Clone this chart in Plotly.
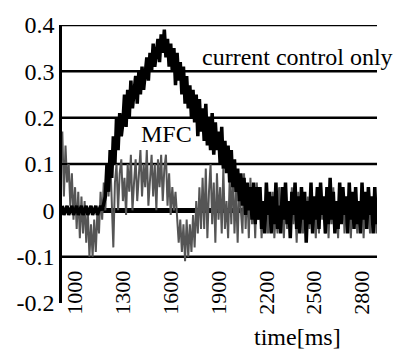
import plotly.graph_objects as go

# sampling grid: 10 ms steps starting at 920 ms
T0 = 920
DT = 10

# "current control only" response
current_only = [
    # 920-1180
    0.01, -0.01, 0.0, 0.01, -0.01, 0.0, 0.01, -0.01, 0.0, 0.01,
    -0.01, 0.0, 0.01, -0.01, 0.0, 0.01, -0.01, 0.0, 0.01, -0.01,
    0.0, 0.01, -0.01, 0.0, 0.01, 0.0, 0.02,
    # 1190-1550
    0.03, 0.1, 0.04, 0.13, 0.07, 0.16, 0.1, 0.2, 0.13, 0.21,
    0.16, 0.19, 0.25, 0.18, 0.26, 0.2, 0.28, 0.22, 0.25, 0.29,
    0.23, 0.3, 0.25, 0.31, 0.26, 0.29, 0.33, 0.28, 0.34, 0.3,
    0.36, 0.31, 0.34, 0.37, 0.32, 0.38, 0.34,
    # 1560-1850
    0.39, 0.33, 0.37, 0.31, 0.36, 0.3, 0.35, 0.27, 0.34, 0.28,
    0.32, 0.25, 0.31, 0.23, 0.29, 0.22, 0.27, 0.2, 0.26, 0.19,
    0.25, 0.16, 0.24, 0.17, 0.22, 0.15, 0.23, 0.14, 0.2, 0.13,
    # 1860-2150
    0.21, 0.12, 0.19, 0.13, 0.17, 0.1, 0.18, 0.09, 0.15, 0.08,
    0.14, 0.06, 0.13, 0.05, 0.11, 0.04, 0.09, 0.02, 0.08, 0.01,
    0.07, -0.01, 0.06, 0.0, 0.05, -0.02, 0.06, -0.03, 0.05, -0.02,
    # 2160-2890
    0.05, -0.04, 0.02, -0.05, 0.06, -0.01, 0.04, -0.05, 0.03, -0.03,
    0.06, -0.04, 0.01, -0.05, 0.05, -0.02, 0.06, -0.03, 0.02, -0.06,
    0.04, -0.01, 0.06, -0.04, 0.03, -0.05, 0.05, -0.02, 0.04, -0.07,
    0.02, -0.03, 0.06, -0.05, 0.03, -0.02, 0.05, -0.04, 0.06, -0.01,
    0.03, -0.05, 0.05, -0.03, 0.07, -0.02, 0.04, -0.05, 0.02, -0.04,
    0.06, -0.03, 0.05, -0.01, 0.03, -0.05, 0.06, -0.02, 0.04, -0.04,
    0.05, -0.03, 0.02, -0.05, 0.06, -0.02, 0.04, -0.04, 0.05, -0.01,
    0.03, -0.05, 0.05, -0.03,
]

# MFC response
mfc = [
    # 920-1180
    0.17, 0.03, 0.14, 0.06, 0.1, 0.01, 0.08, -0.02, 0.05, -0.04,
    0.04, -0.06, 0.03, -0.05, 0.02, -0.07, 0.0, -0.1, -0.03, -0.1,
    -0.02, -0.09, 0.0, -0.05, 0.04, -0.02, 0.06,
    # 1190-1600
    0.0, 0.1, 0.03, 0.12, -0.01, -0.08, 0.06, 0.1, 0.0, 0.08,
    0.11, 0.02, 0.07, -0.01, 0.1, 0.04, 0.12, 0.0, 0.06, 0.11,
    0.02, 0.09, 0.13, 0.03, 0.1, 0.05, 0.13, 0.01, 0.08, 0.12,
    0.03, 0.1, 0.0, 0.11, 0.05, 0.12, 0.02, 0.09, 0.12, 0.01,
    0.08, -0.01,
    # 1610-1800
    0.05, 0.0, 0.04, -0.03, -0.07, -0.02, -0.09, -0.03, -0.11, -0.02,
    -0.1, -0.03, -0.09, -0.01, -0.08, 0.02, -0.05, 0.05, -0.04, 0.07,
    # 1810-2150
    -0.04, 0.09, -0.06, 0.04, 0.1, -0.03, 0.06, -0.07, 0.08, -0.02,
    0.05, -0.05, 0.09, -0.04, 0.02, -0.06, 0.07, -0.03, 0.1, -0.05,
    0.04, -0.07, 0.06, 0.0, -0.05, 0.08, -0.04, 0.05, -0.06, 0.07,
    -0.03, 0.04, -0.06, 0.06, -0.02,
    # 2160-2890
    0.03, -0.06, 0.01, -0.04, 0.05, -0.05, 0.02, -0.03, 0.04, -0.06,
    0.0, -0.05, 0.05, -0.02, 0.03, -0.06, 0.04, -0.04, 0.01, -0.05,
    0.05, -0.03, 0.02, -0.07, 0.04, -0.02, 0.05, -0.05, 0.0, -0.06,
    0.03, -0.04, 0.05, -0.03, 0.02, -0.06, 0.04, -0.05, 0.05, -0.02,
    0.01, -0.05, 0.04, -0.06, 0.03, -0.03, 0.05, -0.04, 0.02, -0.06,
    0.04, -0.02, 0.05, -0.05, 0.01, -0.04, 0.04, -0.06, 0.03, -0.03,
    0.05, -0.05, 0.02, -0.04, 0.04, -0.06, 0.03, -0.02, 0.05, -0.05,
    0.02, -0.04, 0.04, -0.05,
]

x_ticks = [1000, 1300, 1600, 1900, 2200, 2500, 2800]
y_ticks = [-0.2, -0.1, 0, 0.1, 0.2, 0.3, 0.4]
y_tick_text = ["-0.2", "-0.1", "0", "0.1", "0.2", "0.3", "0.4"]
grid_levels = [0.4, 0.3, 0.2, 0.1, -0.1]

X_RANGE = [918, 2894]
Y_RANGE = [-0.2, 0.4]
FONT = "Liberation Serif"

t_cc = [T0 + DT * i for i in range(len(current_only))]
t_mfc = [T0 + DT * i for i in range(len(mfc))]

fig = go.Figure()
fig.add_trace(go.Scatter(x=t_mfc, y=mfc, mode="lines",
                         line=dict(color="#555555", width=2),
                         showlegend=False))
fig.add_trace(go.Scatter(x=t_cc, y=current_only, mode="lines",
                         line=dict(color="black", width=3.5),
                         showlegend=False))

for g in grid_levels:
    fig.add_shape(type="line", xref="x", yref="y", x0=X_RANGE[0], x1=X_RANGE[1],
                  y0=g, y1=g, line=dict(color="black", width=2.5), layer="below")

fig.add_annotation(x=1783, y=0.33, xref="x", yref="y", text="current control only",
                   showarrow=False, xanchor="left", yanchor="middle",
                   font=dict(family=FONT, size=24, color="black"))
fig.add_annotation(x=1576, y=0.165, xref="x", yref="y", text="MFC",
                   showarrow=False, xanchor="center", yanchor="middle",
                   font=dict(family=FONT, size=24, color="black"))
# axis title sits below the rotated tick labels, right of centre
fig.add_annotation(x=2398, y=-0.122, xref="x", yref="paper", text="time[ms]",
                   showarrow=False, xanchor="center", yanchor="middle",
                   font=dict(family=FONT, size=24, color="black"))

fig.update_layout(
    width=396, height=355,
    margin=dict(l=62, r=19, t=17, b=52, pad=0),
    paper_bgcolor="white", plot_bgcolor="white",
    font=dict(family=FONT, size=24, color="black"),
    xaxis=dict(range=X_RANGE, tickvals=x_ticks, tickangle=-90,
               showgrid=False, zeroline=False, showline=False, ticks="",
               anchor="free", position=0.135,
               tickfont=dict(family=FONT, size=22, color="black")),
    yaxis=dict(range=Y_RANGE, tickvals=y_ticks, ticktext=y_tick_text,
               showgrid=False, zeroline=True, zerolinecolor="black", zerolinewidth=5,
               showline=True, linecolor="black", linewidth=2.5,
               ticks="inside", ticklen=5, tickwidth=2, tickcolor="black",
               tickfont=dict(family=FONT, size=24, color="black")),
)

fig.write_html("out.html")
